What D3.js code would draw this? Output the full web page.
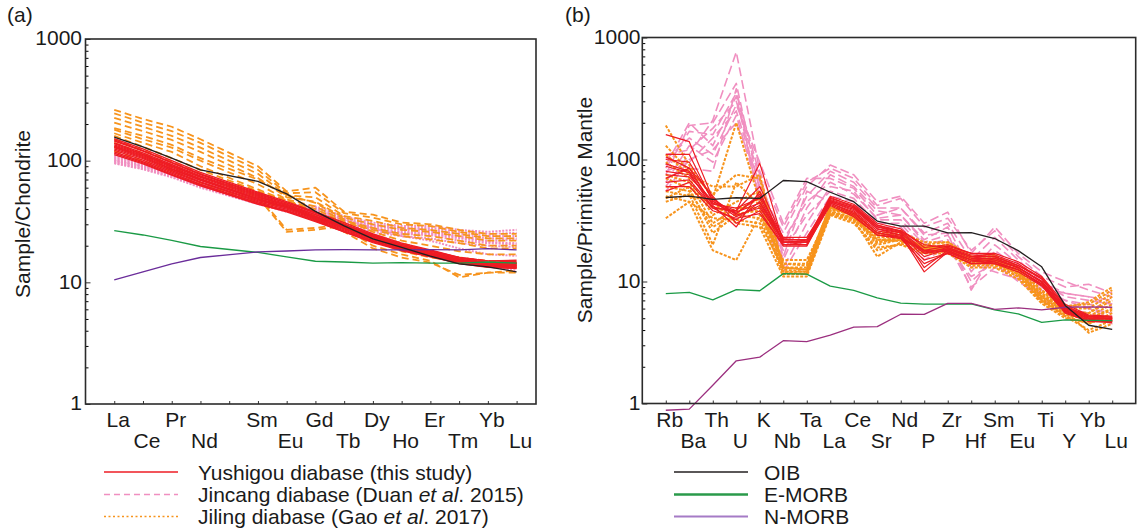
<!DOCTYPE html>
<html>
<head>
<meta charset="utf-8">
<script src="https://cdn.jsdelivr.net/npm/d3@7"></script>
<style>
  body { margin: 0; background: #fff; }
  svg { font-family: "Liberation Sans", Arial, sans-serif; }
</style>
</head>
<body>
<div id="chart"></div>
<script>
(function(){

// x axis slots (Pm has a tick but no label / no data)
var reeSlots = ["La","Ce","Pr","Nd","Pm","Sm","Eu","Gd","Tb","Dy","Ho","Er","Tm","Yb","Lu"];
var reeElements = ["La","Ce","Pr","Nd","Sm","Eu","Gd","Tb","Dy","Ho","Er","Tm","Yb","Lu"];
var spiderElements = ["Rb","Ba","Th","U","K","Nb","Ta","La","Ce","Sr","Nd","P","Zr","Hf","Sm","Eu","Ti","Y","Yb","Lu"];
var yTicks = [1, 10, 100, 1000];

// (a) chondrite normalised REE
var reeYushigou = [
  [152,125,100,80,55,46,38,31,25,21,18.5,16,15,14.8],
  [145,120,96,77,53,45,37,30,24.5,20.5,18,15.8,14.6,14.5],
  [140,116,93,75,52,44,36,29.5,24,20,17.6,15.5,14.4,14.2],
  [135,112,90,73,50,43,35,29,23.5,19.8,17.4,15.2,14.2,14],
  [132,110,88,71,49,42,34.5,28.5,23,19.5,17.2,15,14,13.8],
  [128,106,85,69,48,41.5,34,28,22.8,19.3,17,15,13.9,13.6],
  [125,104,83,67,47,41,33.5,27.5,22.5,19,16.8,14.8,13.8,13.5],
  [122,101,81,66,46,40,33,27,22,18.8,16.6,14.6,13.6,13.3],
  [118,98,79,64,45,39,32.5,26.5,21.8,18.6,16.5,14.5,13.5,13.2],
  [115,96,77,63,44,38.5,32,26,21.5,18.4,16.3,14.4,13.4,13.1],
  [112,94,76,62,44,38,31.5,26,21.2,18.2,16.2,14.3,13.3,13],
  [138,113,91,74,51,43,36,29,23.8,20,17.6,15.4,14.5,14.3],
  [148,121,97,78,54,45,37.5,30,24.5,20.5,18.2,16,15,15.2],
  [130,108,86,70,48,41,34,28,23,19.6,17.3,15.2,14.1,13.8]
];
var reeJincang = [
  [110,98,84,68,50,44,42,35,31,29,29,27,26,27],
  [106,95,82,66,49,43,41,34,30,28,28,26,25,25.5],
  [104,93,80,65,48,42,40,33,29.5,27.5,27,25,24,24],
  [102,91,78,64,47,41.5,39,32.5,29,27,26.5,24,23,23],
  [100,90,77,63,46,41,38,32,28,26,25.5,23.5,22,22.5],
  [98,88,76,62,45,40,37,31,27.5,25.5,25,23,21.5,21],
  [96,86,74,61,44,39,36,30,27,25,24.5,22,21,20.5],
  [108,96,83,67,50,43,40,33,28,24,22,19,17,16.5],
  [100,90,78,63,46,40,37,30,25,21,18,15.5,13.5,12.5],
  [95,85,73,60,44,38,35,29,26,24,23,21,20,19.5]
];
var reeJiling = [
  [262,220,190,150,90,56,60,38,36,31,30,27,25,25],
  [245,205,175,140,84,54,55,37,34,30,29,26,24,24],
  [225,190,160,128,78,52,50,35,32,28,27,25,23,23],
  [205,175,148,118,72,50,46,34,30,27,26,24,22,22],
  [180,150,128,100,64,48,42,32,28,25,24,22,20,20],
  [168,140,118,90,58,47,40,31,27,24,22.5,21,19,19],
  [150,122,98,78,52,27,28,30,24,21,18,16,15,14.5],
  [140,115,92,74,50,26,27,29,23,20,17.5,15,14,13.5],
  [130,110,88,70,48,44,35,28,20,17,15,11,12,12.5],
  [120,100,82,66,45,42,33,26,19,16,14.5,11.5,12,12],
  [160,130,105,84,56,47,38,30,22,18,16,15,14,14],
  [185,160,135,105,70,52,45,33,26,22,20,18,17,17]
];
var reeOIB = [156,130,105,84,67.6,53.3,38.3,29.1,22.8,19.4,16.4,14.2,13.4,12.2];
var reeEMORB = [26.6,24.5,22.1,19.7,17.6,16.2,14.9,14.7,14.4,14.5,14.4,14.4,14.7,14.4];
var reeNMORB = [10.5,12.2,14.2,16.0,17.8,18.1,18.5,18.6,18.5,18.5,18.6,18.5,18.9,18.5];

// (b) primitive mantle normalised trace elements
var pmYushigou = [
  [160,140,48,35,40,22,22,50,43,30,27,19,20,17,17,14.5,11,6.5,5.3,5.2],
  [110,110,45,38,93,21,21,48,42,29,26,18,19.5,17,16.5,14,10.5,6.3,5.2,5.1],
  [105,85,42,28,55,20,20,47,41,28,25,17,19,16,16,13.5,10.5,6.1,5.1,5],
  [92,80,44,36,50,23,23,46,40,27,25,13,18,15,15.5,13,10,6,5,5],
  [88,78,40,32,45,22,22,45,39,27,24,16,18.5,16,15,13,10,5.9,5,4.9],
  [80,75,43,40,48,21,20,45,38,26,24,12,17.5,14.5,15,13,9.8,5.8,4.9,4.8],
  [75,72,46,34,42,20,20,44,37,25,23.5,17,18,15,14.5,12.5,9.6,5.7,4.8,4.8],
  [70,85,50,30,38,19.5,19.5,44,36,25,23,15,17,14,14.5,12.5,9.5,5.7,4.8,4.7],
  [65,68,41,37,44,21,21,43,35,24,23,18,17.5,15,14,12.5,9.3,5.6,4.7,4.7],
  [60,60,38,33,36,20,20,42,34,24,22.5,14,17,14,14,12,9.2,5.5,4.7,4.6],
  [55,65,40,38,60,22.5,21.5,46,40,28,26,20,19,16.5,16,13.5,10.8,6.2,5.2,5.1],
  [100,95,47,36,52,21.5,21,49,41,29,25.5,17.5,18.5,15.5,15.5,13,10,6,5,5]
];
var pmJincang = [
  [60,110,210,760,80,28,65,85,70,42,48,28,33,18,26,16,11,9,9.5,8],
  [75,190,200,420,55,25,60,90,75,45,50,30,37,17,28,17,12,10,8.5,7.5],
  [90,200,130,330,45,20,50,80,65,40,40,25,30,15,23,15,10,8,7.5,7],
  [110,120,180,300,70,15,40,75,60,38,35,22,28,12,20,14,10,7.5,7,6.5],
  [100,150,110,280,95,30,70,70,58,35,40,24,25,8.5,18,13,9,7,6.5,6],
  [80,95,150,250,60,13,30,60,55,32,32,20,22,10,15,12,8.5,6.5,6,5.5],
  [65,130,95,230,50,18,35,55,48,30,30,18,20,9,13,11,8,7,6,5],
  [70,85,80,380,42,12,25,50,45,28,28,17,18,11,14,10,7.5,6,5.5,4.8],
  [55,100,120,200,65,22,45,65,52,33,35,21,24,13,17,13,9,8,7.5,6.5],
  [85,170,160,350,75,16,55,45,40,27,26,15,19,14,12,10.5,7,6,5.2,4.5]
];
var pmJiling = [
  [190,90,48,200,45,14,13.5,42,37,25,26,20,21,16,16,13,8.5,6.3,6.5,8.5],
  [130,80,52,75,70,13,12.5,40,36,24,24,19,20,15.5,15.5,12.5,8,6,6,8],
  [95,70,35,45,55,12,12,39,35,23,23,18.5,19.5,15,15,12,7.8,5.8,5.5,7.5],
  [75,65,30,40,40,14,14,41,34,22,22.5,18,19,15,15,12,7.5,5.6,5.5,7],
  [60,55,28,36,38,11.5,11.5,38,33,20,22,19,18.5,14.5,14.5,11.5,7.2,5.4,5,6],
  [50,45,18,15,35,15,15,37,32,16,21,20,18,14,14,11,7,5.2,4.5,5.5],
  [33,45,33,32,30,13,13,36,31,18,20.5,17.5,17.5,13.5,13.5,11,6.8,5.2,4,4.8],
  [48,60,40,38,48,12.5,12,40,35,21,23,19.5,19,15,15,12,7.6,5.8,3.8,4.5],
  [55,50,45,30,28,11,11,35,30,19,20,17,17,13,13,10.5,6.6,5,4.6,5],
  [110,75,60,60,75,13,12.5,42,36,24,25,21,21,16,16.5,13,8.3,6.1,6.8,9],
  [70,58,25,35,33,12,11.5,37,33,21,22,18,18.5,14,14.5,11.5,7.3,5.5,5.2,6.5],
  [45,52,20,65,42,11.5,11.5,36,32,22,21.5,18.5,18,14.5,14,11.5,7,5.3,5,5.8]
];
var pmOIB = [48.8,50.1,47.1,48.6,48.0,67.3,65.9,53.9,45.1,31.3,28.4,28.4,25.0,25.2,22.5,17.9,13.2,6.37,4.38,4.05];
var pmEMORB = [7.94,8.16,7.06,8.57,8.4,11.6,11.5,9.17,8.45,7.35,6.65,6.53,6.52,6.57,5.86,5.42,4.62,4.84,4.81,4.78];
var pmNMORB = [0.88,0.90,1.41,2.24,2.4,3.27,3.22,3.64,4.23,4.27,5.39,5.37,6.61,6.63,5.92,6.07,5.85,6.15,6.19,6.15];

var RED = "#ee1c24", PINK = "#f08fc0", ORANGE = "#f7941d";

var svg = d3.select("#chart")
  .append("svg")
    .attr("width", 1137)
    .attr("height", 531);

drawPanel({
  tag: "(a)", tagX: 7,
  title: "Sample/Chondrite", titleX: 30, titleY: 214,
  left: 85.5, right: 536, top: 39, bottom: 404, xDomain: [-1, 14.675], labelEnd: 82,
  slots: reeSlots, elements: reeElements,
  series: [
    {data: reeJincang, color: PINK, width: 2, dash: "2,1.4"},
    {data: reeJiling, color: ORANGE, width: 1.8, dash: "7,4"},
    {data: reeYushigou, color: RED, width: 1.4, dash: null},
    {data: [reeEMORB], color: "#1a9a45", width: 1.3, dash: null},
    {data: [reeNMORB], color: "#6a2c9a", width: 1.3, dash: null},
    {data: [reeOIB], color: "#231f20", width: 1.3, dash: null}
  ]
});

drawPanel({
  tag: "(b)", tagX: 565,
  title: "Sample/Primitive Mantle", titleX: 592, titleY: 210,
  left: 642.3, right: 1135.7, top: 37.5, bottom: 403.5, xDomain: [-1, 20], labelEnd: 640.5,
  slots: spiderElements, elements: spiderElements,
  series: [
    {data: pmJincang, color: PINK, width: 1.6, dash: "9,4"},
    {data: pmJiling, color: ORANGE, width: 2, dash: "3,1.5"},
    {data: pmYushigou, color: RED, width: 1.2, dash: null},
    {data: [pmEMORB], color: "#1a9a45", width: 1.3, dash: null},
    {data: [pmNMORB], color: "#9b2f7f", width: 1.3, dash: null},
    {data: [pmOIB], color: "#231f20", width: 1.3, dash: null}
  ]
});

function drawPanel(p) {
  var x = d3.scaleLinear().domain(p.xDomain).range([p.left, p.right]);
  var y = d3.scaleLog().domain([1, 1000]).range([p.bottom, p.top]);
  var g = svg.append("g");

  var line = d3.line()
    .x(function(d, i){ return x(p.slots.indexOf(p.elements[i])) })
    .y(function(d){ return y(d) });

  p.series.forEach(function(s){
    g.append("g").selectAll("path")
      .data(s.data)
      .enter()
      .append("path")
        .attr("d", line)
        .attr("fill", "none")
        .attr("stroke", s.color)
        .attr("stroke-width", s.width)
        .attr("stroke-dasharray", s.dash)
        .attr("stroke-linejoin", "round");
  });

  // minor ticks 2..9 of every decade, pointing inward
  var minor = [];
  [1, 10, 100].forEach(function(d){ for (var k = 2; k < 10; k++) minor.push(d * k) });

  g.append("g")
    .attr("transform", "translate(" + p.left + ",0)")
    .call(d3.axisLeft(y).tickValues(minor).tickSize(-3).tickFormat(""))
    .call(function(a){ a.select(".domain").remove() });

  var yAxis = g.append("g")
    .attr("transform", "translate(" + p.left + ",0)")
    .call(d3.axisLeft(y).tickValues(yTicks).tickSize(-5).tickPadding(p.left - p.labelEnd).tickFormat(d3.format("d")));
  yAxis.select(".domain").remove();
  yAxis.selectAll("line").attr("stroke", "#333");
  yAxis.selectAll("text")
    .attr("font-size", "21px")
    .attr("font-family", "Liberation Sans, Arial, sans-serif")
    .attr("fill", "#1a1a1a")
    .attr("dy", "0.28em");

  var xAxis = g.append("g")
    .attr("transform", "translate(0," + p.bottom + ")")
    .call(d3.axisBottom(x).tickValues(d3.range(p.slots.length)).tickSize(-3).tickFormat(""));
  xAxis.select(".domain").remove();
  xAxis.selectAll("line").attr("stroke", "#333");

  // element labels in two staggered rows
  g.selectAll("text.el")
    .data(p.elements)
    .enter()
    .append("text")
      .attr("class", "el")
      .attr("x", function(d){ return x(p.slots.indexOf(d)) + 4 })
      .attr("y", function(d, i){ return i % 2 == 0 ? 426.5 : 448 })
      .attr("text-anchor", "middle")
      .attr("font-size", "21px")
      .attr("fill", "#1a1a1a")
      .text(function(d){ return d });

  // frame
  g.append("rect")
    .attr("x", p.left)
    .attr("y", p.top)
    .attr("width", p.right - p.left)
    .attr("height", p.bottom - p.top)
    .attr("fill", "none")
    .attr("stroke", "#2b2b2b")
    .attr("stroke-width", 1.6);

  g.append("text")
    .attr("transform", "translate(" + p.titleX + "," + p.titleY + ") rotate(-90)")
    .attr("text-anchor", "middle")
    .attr("font-size", "21px")
    .attr("fill", "#1a1a1a")
    .text(p.title);

  g.append("text")
    .attr("x", p.tagX)
    .attr("y", 22)
    .attr("font-size", "21px")
    .attr("fill", "#1a1a1a")
    .text(p.tag);
}

// legends
var legendA = [
  {color: RED, dash: null, width: 1.6, parts: [["Yushigou diabase (this study)", false]]},
  {color: PINK, dash: "6,4", width: 1.6, parts: [["Jincang diabase (Duan ", false], ["et al", true], [". 2015)", false]]},
  {color: ORANGE, dash: "2,2.5", width: 1.6, parts: [["Jiling diabase (Gao ", false], ["et al", true], [". 2017)", false]]}
];
var legendB = [
  {color: "#231f20", dash: null, width: 1.5, parts: [["OIB", false]]},
  {color: "#2a9a4a", dash: null, width: 2.6, parts: [["E-MORB", false]]},
  {color: "#a57bc6", dash: null, width: 2, parts: [["N-MORB", false]]}
];
var legendRows = [472, 494.5, 516.5];

drawLegend(legendA, 104, 178, 198);
drawLegend(legendB, 674, 748, 764);

function drawLegend(items, x0, x1, tx) {
  var rows = svg.append("g").selectAll("g")
    .data(items)
    .enter()
    .append("g")
      .attr("transform", function(d, i){ return "translate(0," + legendRows[i] + ")" });

  rows.append("line")
    .attr("x1", x0)
    .attr("x2", x1)
    .attr("stroke", function(d){ return d.color })
    .attr("stroke-width", function(d){ return d.width })
    .attr("stroke-dasharray", function(d){ return d.dash });

  rows.append("text")
    .attr("x", tx)
    .attr("dy", "0.36em")
    .attr("font-size", "21px")
    .attr("fill", "#1a1a1a")
    .selectAll("tspan")
    .data(function(d){ return d.parts })
    .enter()
    .append("tspan")
      .attr("font-style", function(d){ return d[1] ? "italic" : "normal" })
      .text(function(d){ return d[0] });
}

})();
</script>
</body>
</html>
